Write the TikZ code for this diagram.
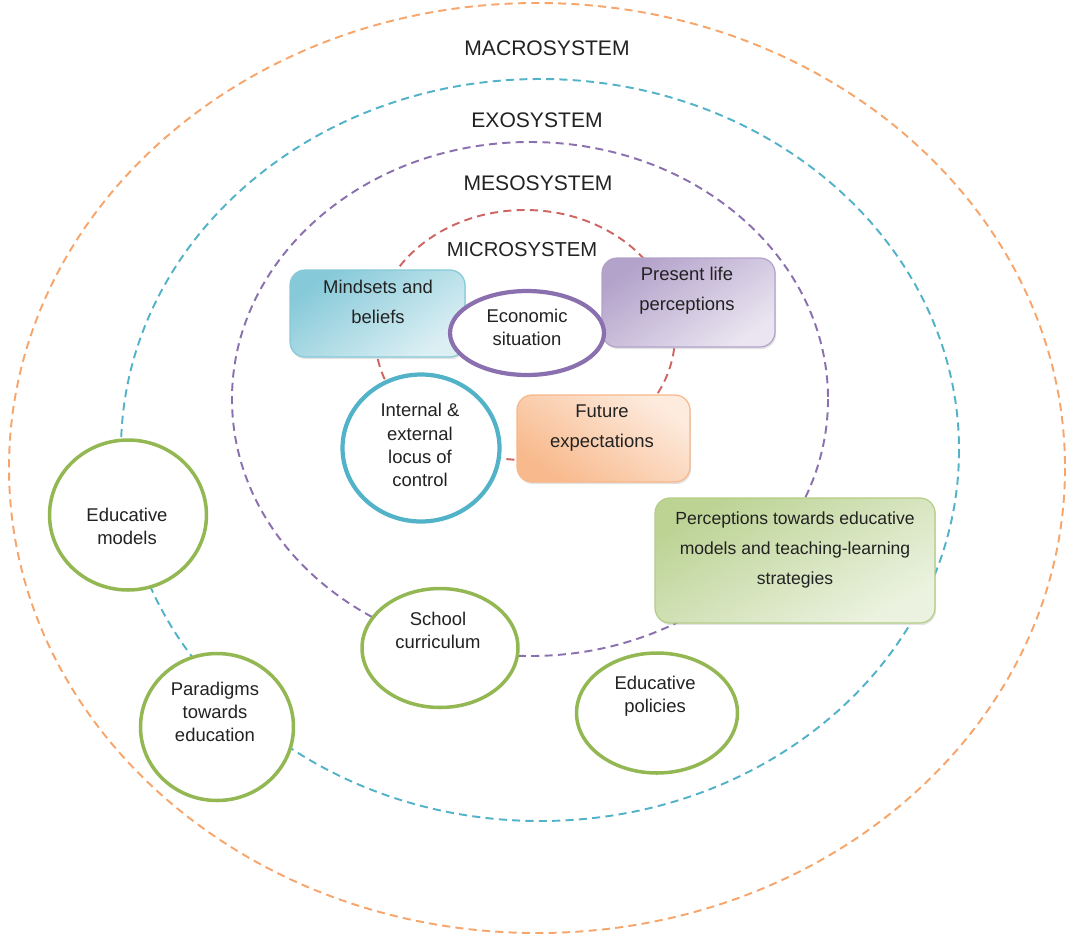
\documentclass[tikz,border=0pt]{standalone}
\usepackage{fontspec}
\setmainfont{Liberation Sans}
\usetikzlibrary{shapes.geometric,shadows}

\definecolor{macroorange}{HTML}{F6A56B}
\definecolor{exoblue}{HTML}{52B2C8}
\definecolor{mesopurple}{HTML}{8A70AE}
\definecolor{microred}{HTML}{CD6663}
\definecolor{ringgreen}{HTML}{93B853}
\definecolor{txtgray}{HTML}{222222}

\tikzset{
    sysring/.style={dash pattern=on 4.6pt off 3pt, line width=1.1pt},
    systitle/.style={font=\fontsize{12}{14}\selectfont, text=txtgray},
    ringtext/.style={align=center, text=txtgray,
        font=\fontsize{10.5}{13.2}\selectfont},
    boxtext/.style={align=center, text=txtgray,
        font=\fontsize{10.5}{17}\selectfont},
    ring/.style={ellipse, draw=#1, line width=2pt, fill=white,
        inner sep=0pt},
    sbox/.style={rectangle, rounded corners=0.3cm, draw=#1,
        line width=0.7pt,
        drop shadow={opacity=0.22, shadow xshift=0.6pt,
            shadow yshift=-1.2pt}},
}

\begin{document}
\begin{tikzpicture}[x=0.02cm, y=-0.02cm]
    \useasboundingbox (0,0) rectangle (1070,937);

    % the four dashed system rings
    \draw[sysring, macroorange] (537,468) ellipse [x radius=528, y radius=465];
    \draw[sysring, exoblue] (540,450) ellipse [x radius=419, y radius=371];
    \draw[sysring, mesopurple] (530,399) ellipse [x radius=298, y radius=257];
    \draw[sysring, microred] (525,335) ellipse [x radius=150, y radius=125];

    \path (547,48) node[systitle](macro){MACROSYSTEM};
    \path (537,120) node[systitle](exo){EXOSYSTEM};
    \path (538,183) node[systitle](meso){MESOSYSTEM};
    \path (522,250) node[systitle, font=\fontsize{11.5}{14}\selectfont](micro){MICROSYSTEM};

    % microsystem boxes
    \path (377.5,313.5) node[sbox=exoblue!70, minimum width=3.5cm,
        minimum height=1.74cm, top color=exoblue!70, bottom color=exoblue!20,
        shading angle=35](mindsets){};
    \path (378,302) node[boxtext](mindsetst){Mindsets and\\beliefs};

    \path (688.5,302.5) node[sbox=mesopurple!65, minimum width=3.46cm,
        minimum height=1.78cm, top color=mesopurple!65, bottom color=mesopurple!18,
        shading angle=35](present){};
    \path (687,291) node[boxtext](presentt){Present life\\perceptions};

    \path (603.5,438.5) node[sbox=macroorange!80, minimum width=3.46cm,
        minimum height=1.74cm, top color=macroorange!22, bottom color=macroorange!78,
        shading angle=-35](future){};
    \path (602,428) node[boxtext](futuret){Future\\expectations};

    \path (527,333) node[ring=mesopurple, line width=2.4pt, minimum width=3.08cm,
        minimum height=1.68cm](econ){};
    \path (527,327) node[ringtext](econt){Economic\\situation};

    \path (421,448) node[ring=exoblue, line width=2.4pt, minimum width=3.14cm,
        minimum height=2.94cm](locus){};
    \path (420,445) node[ringtext](locust){Internal \&\\external\\locus of\\control};

    % mesosystem and beyond
    \path (795,560.5) node[sbox=ringgreen!70, minimum width=5.6cm,
        minimum height=2.5cm, top color=ringgreen!62, bottom color=ringgreen!18,
        shading angle=30](percep){};
    \path (795,550) node[boxtext, font=\fontsize{10}{17}\selectfont](percept)
        {Perceptions towards educative\\models and teaching-learning\\strategies};

    \path (440,648) node[ring=ringgreen, minimum width=3.12cm,
        minimum height=2.38cm](school){};
    \path (438,630) node[ringtext](schoolt){School\\curriculum};

    \path (657,713) node[ring=ringgreen, minimum width=3.22cm,
        minimum height=2.4cm](policies){};
    \path (655,696) node[ringtext](policiest){Educative\\policies};

    \path (128,515) node[ring=ringgreen, minimum width=3.14cm,
        minimum height=3cm](models){};
    \path (127,526) node[ringtext](modelst){Educative\\models};

    \path (217,727) node[ring=ringgreen, minimum width=3.06cm,
        minimum height=2.94cm](paradigms){};
    \path (215,712) node[ringtext](paradigmst){Paradigms\\towards\\education};
\end{tikzpicture}
\end{document}
